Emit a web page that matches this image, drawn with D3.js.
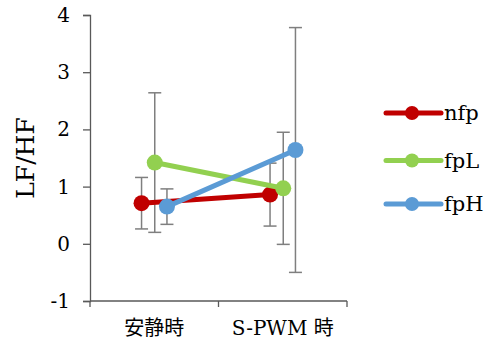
<!DOCTYPE html>
<html>
<head>
<meta charset="utf-8">
<script src="https://cdn.jsdelivr.net/npm/d3@7"></script>
<style>
  body { margin: 0; background: #fff; }
</style>
</head>
<body>
<div id="chart"></div>
<script>
// categories and series values
let categories = ["安静時", "S-PWM 時"];
let seriesNames = ["nfp", "fpL", "fpH"];
let nfpValues = [0.71, 0.86];
let nfpErrors = [0.45, 0.55];
let fpLValues = [1.42, 0.97];
let fpLErrors = [1.22, 0.98];
let fpHValues = [0.65, 1.64];
let fpHErrors = [0.31, 2.14];
let yTicks = [-1, 0, 1, 2, 3, 4];

let colors = ["#c00000", "#92d050", "#5b9bd5"];
let offsets = [-12.7, 0.5, 12.7];

let width = 490;
let height = 342;
let margin = { top: 15, right: 143, bottom: 41, left: 90 };

let series = [
    { name: seriesNames[0], values: nfpValues, errors: nfpErrors },
    { name: seriesNames[1], values: fpLValues, errors: fpLErrors },
    { name: seriesNames[2], values: fpHValues, errors: fpHErrors }
];

let svg = d3.select("#chart")
    .append("svg")
    .attr("width", width)
    .attr("height", height);

let xScale = d3.scaleBand()
    .domain(categories)
    .range([margin.left, width - margin.right]);

let yScale = d3.scaleLinear()
    .domain([-1, 4])
    .range([height - margin.bottom, margin.top]);

let axisColor = "#595959";
let serif = "DejaVu Serif, serif";

// y axis
let yAxis = svg.append("g")
    .attr("transform", `translate(${margin.left},0)`)
    .call(d3.axisLeft(yScale).tickValues(yTicks).tickSize(7).tickPadding(13)
        .tickFormat(d => d < 0 ? "-" + Math.abs(d) : d))
    .attr("font-family", serif)
    .attr("font-size", 20);
yAxis.select(".domain").attr("stroke", axisColor).attr("stroke-width", 1.3);
yAxis.selectAll(".tick line").attr("stroke", axisColor).attr("stroke-width", 1.3);
yAxis.selectAll(".tick text").attr("fill", "#000");

// x axis (ticks at band edges)
let xAxisG = svg.append("g")
    .attr("transform", `translate(0,${height - margin.bottom})`);
xAxisG.append("line")
    .attr("x1", margin.left).attr("x2", width - margin.right)
    .attr("stroke", axisColor).attr("stroke-width", 1.3);
let edges = [margin.left].concat(categories.map(c => xScale(c) + xScale.bandwidth()));
xAxisG.selectAll(".edge").data(edges).enter()
    .append("line")
    .attr("x1", d => d).attr("x2", d => d)
    .attr("y1", 0).attr("y2", 6)
    .attr("stroke", axisColor).attr("stroke-width", 1.3);
xAxisG.selectAll(".cat").data(categories).enter()
    .append("text")
    .attr("x", d => xScale(d) + xScale.bandwidth() / 2)
    .attr("y", 34)
    .attr("text-anchor", "middle")
    .attr("font-family", "DejaVu Serif, Noto Sans CJK JP, serif")
    .attr("font-size", 20)
    .text(d => d);

// y title
svg.append("text")
    .attr("transform", "translate(34,158) rotate(-90)")
    .attr("text-anchor", "middle")
    .attr("font-family", serif)
    .attr("font-size", 25)
    .text("LF/HF");

// error bars
let capW = 6.5;
series.forEach((s, si) => {
    let g = svg.append("g");
    s.values.forEach((v, i) => {
        let x = xScale(categories[i]) + xScale.bandwidth() / 2 + offsets[si];
        let yTop = yScale(v + s.errors[i]);
        let yBot = yScale(v - s.errors[i]);
        g.append("line").attr("x1", x).attr("x2", x).attr("y1", yTop).attr("y2", yBot);
        g.append("line").attr("x1", x - capW).attr("x2", x + capW).attr("y1", yTop).attr("y2", yTop);
        g.append("line").attr("x1", x - capW).attr("x2", x + capW).attr("y1", yBot).attr("y2", yBot);
    });
    g.selectAll("line").attr("stroke", "#7f7f7f").attr("stroke-width", 1.5);
});

// lines and markers
let line = d3.line()
    .x(d => d.x)
    .y(d => yScale(d.v));

series.forEach((s, si) => {
    let pts = s.values.map((v, i) => ({
        x: xScale(categories[i]) + xScale.bandwidth() / 2 + offsets[si],
        v: v
    }));
    svg.append("path")
        .datum(pts)
        .attr("d", line)
        .attr("fill", "none")
        .attr("stroke", colors[si])
        .attr("stroke-width", 5)
        .attr("stroke-linecap", "round");
    svg.selectAll(".pt" + si).data(pts).enter()
        .append("circle")
        .attr("cx", d => d.x)
        .attr("cy", d => yScale(d.v))
        .attr("r", 8)
        .attr("fill", colors[si]);
});

// legend
let legendY = [113, 160.5, 204];
let legend = svg.append("g");
series.forEach((s, si) => {
    let y = legendY[si];
    legend.append("line")
        .attr("x1", 386).attr("x2", 441)
        .attr("y1", y).attr("y2", y)
        .attr("stroke", colors[si])
        .attr("stroke-width", 5)
        .attr("stroke-linecap", "round");
    legend.append("circle")
        .attr("cx", 412).attr("cy", y).attr("r", 7)
        .attr("fill", colors[si]);
    legend.append("text")
        .attr("x", 444).attr("y", y + 7)
        .attr("font-family", serif)
        .attr("font-size", 21)
        .text(s.name);
});
</script>
</body>
</html>
